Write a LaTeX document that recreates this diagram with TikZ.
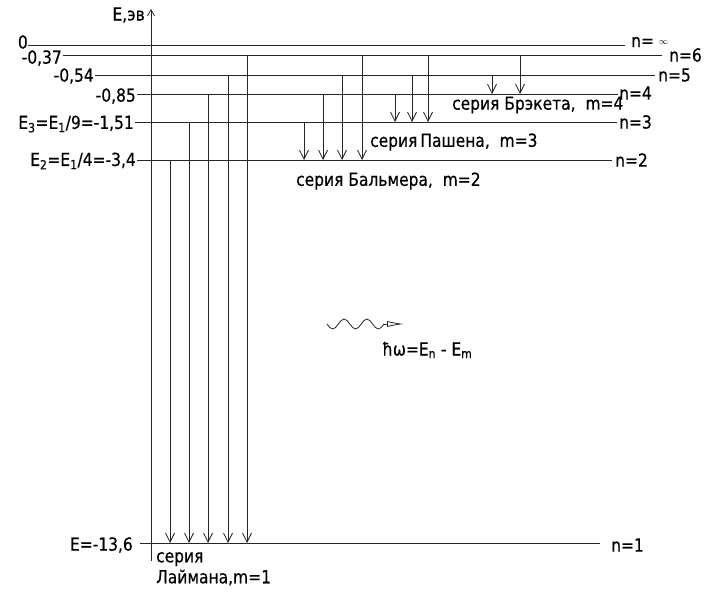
\documentclass[tikz,border=0pt]{standalone}
\usepackage{fontspec}
\setmainfont{DejaVu Sans}[FakeStretch=0.86, FakeBold=0.5]
\usepackage{tikz}
\usetikzlibrary{positioning}
\usetikzlibrary{arrows.meta}
\tikzstyle{level} = [draw, line width=0.9pt, black!85]
\tikzstyle{trans} = [draw, line width=0.8pt, black!85, -{Straight Barb[length=9pt,width=9pt,line width=0.8pt]}]
\tikzstyle{lbl} = [inner sep=1pt, font=\fontsize{18}{21}\selectfont]

\begin{document}
\begin{tikzpicture}[x=1pt, y=-1pt]
	\useasboundingbox (0,0) rectangle (718,601);
	
	% energy axis
	\coordinate (ax-bot) at (151,561);
	\coordinate (ax-top) at (151,9);
	\draw[line width=0.8pt, black!85, -{Straight Barb[length=6pt,width=7pt,line width=0.8pt]}] (ax-bot) -- (ax-top);
	\node[lbl, anchor=east] (ax-lab) at (146,15) {E,эв};
	
	% levels
	\foreach \name/\y/\xa/\xb in {inf/45/28/625, six/55/63/662, five/75/95/655, four/94/137/618, three/122/135/617, two/160/137/612, one/543/140/600} {
		\coordinate (\name-l) at (\xa,\y);
		\coordinate (\name-r) at (\xb,\y);
		\draw[level] (\name-l) -- (\name-r);
	}
	
	\node[lbl, anchor=east] (e-inf) at ([xshift=1pt,yshift=3pt]inf-l) {0};
	\node[lbl, anchor=east] (e-six) at ([yshift=-3pt]six-l) {-0,37};
	\node[lbl, anchor=east] (e-five) at ([yshift=-1pt]five-l) {-0,54};
	\node[lbl, anchor=east] (e-four) at ([yshift=-2pt]four-l) {-0,85};
	\node[lbl, anchor=east] (e-three) at ([yshift=-2pt]three-l) {E\textsubscript{3}=E\textsubscript{1}/9=-1,51};
	\node[lbl, anchor=east] (e-two) at ([yshift=-1pt]two-l) {E\textsubscript{2}=E\textsubscript{1}/4=-3,4};
	\node[lbl, anchor=east] (e-one) at ([xshift=-6pt,yshift=-2pt]one-l) {E=-13,6};
	
	\node[lbl, anchor=west] (n-inf) at ([xshift=5pt,yshift=3pt]inf-r) {n= \raisebox{3pt}{\small$\infty$}};
	\node[lbl, anchor=west] (n-six) at ([xshift=6pt]six-r) {n=6};
	\node[lbl, anchor=west] (n-five) at ([xshift=2pt]five-r) {n=5};
	\node[lbl, anchor=west] (n-four) at ([yshift=1pt]four-r) {n=4};
	\node[lbl, anchor=west] (n-three) at ([xshift=1pt]three-r) {n=3};
	\node[lbl, anchor=west] (n-two) at ([xshift=2pt]two-r) {n=2};
	\node[lbl, anchor=west] (n-one) at ([xshift=10pt,yshift=-2pt]one-r) {n=1};
	
	% transitions
	\foreach \x/\a/\b in {170/two/one, 189/three/one, 208/four/one, 228/five/one, 247/six/one,
		304/three/two, 323/four/two, 342/five/two, 362/six/two,
		395/four/three, 412/five/three, 428/six/three,
		492/five/four, 520/six/four} {
		\draw[trans] (\x,0 |- \a-l) -- (\x,0 |- \b-l);
	}
	
	\node[lbl, anchor=west] (ser-br) at (451,105) {серия Брэкета,~ m=4};
	\node[lbl, anchor=west] (ser-pa) at (369,142) {серия\,Пашена,~ m=3};
	\node[lbl, anchor=west] (ser-ba) at (295,181) {серия Бальмера,~ m=2};
	\node[lbl, anchor=north west, align=left] (ser-ly) at (155,551) {серия\\Лаймана,m=1};
	
	% photon
	\coordinate (ph-a) at (327,324);
	\coordinate (ph-b) at (384,324);
	\coordinate (ph-c) at (404,324);
	\draw[line width=0.8pt, black!85] (ph-a) sin ++(5.7,5) cos ++(5.7,-5) sin ++(5.7,-5) cos ++(5.7,5)
		sin ++(5.7,5) cos ++(5.7,-5) sin ++(5.7,-5) cos ++(5.7,5) sin ++(5.7,5) cos ++(5.7,-5);
	\draw[line width=0.8pt, black!85, -{Latex[open,length=17pt,width=6pt]}] (ph-b) -- (ph-c);
	\node[lbl, anchor=west] (ph-lab) at (381,350) {ħω=E\textsubscript{n} - E\textsubscript{m}};
\end{tikzpicture}
\end{document}
